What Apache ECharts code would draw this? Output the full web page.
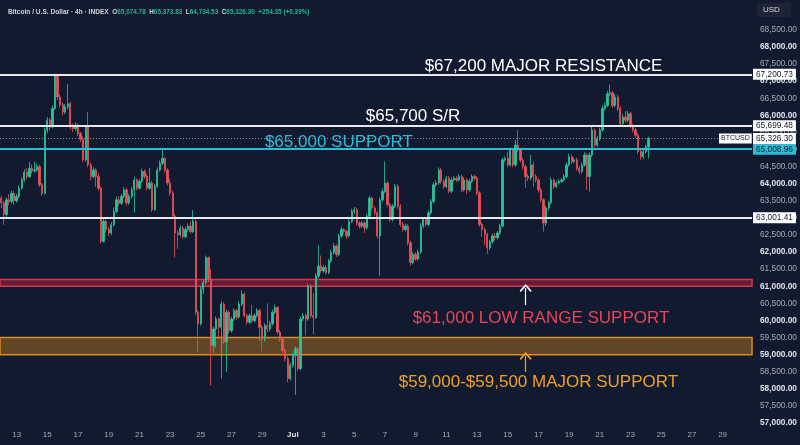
<!DOCTYPE html>
<html>
<head>
<meta charset="utf-8">
<script src="https://cdn.jsdelivr.net/npm/echarts@6/dist/echarts.min.js"></script>
<style>
  html, body { margin: 0; padding: 0; background: #111a2e; }
  #chart { width: 800px; height: 445px; }
</style>
</head>
<body>
<div id="chart"></div>
<script>
// BTCUSD 4h candles, Jun 12 00:00 -> Jul 24 04:00 (one row per day, 6 candles)
const firstOpen = 63580
const closes = [
  63440, 63100, 63530, 63480, 63720, 63500, // Jun 12
  63630, 63870, 64110, 64340, 64210, 64450,
  64380, 64400, 64500, 63970, 63720, 65570,
  65860, 65660, 66200, 67180, 66540, 66310,
  66100, 66250, 66340, 65660, 65610, 65710,
  65470, 65300, 64700, 65660, 64550, 64210,
  64400, 64210, 63870, 62320, 62900, 62660,
  62560, 62800, 63190, 63530, 63430, 63630,
  63820, 63440, 63630, 63820, 64110, 63870, // Jun 20
  64070, 64360, 64210, 63870, 64020, 63240,
  63920, 64400, 64600, 64740, 64400, 64020,
  63730, 63050, 62560, 62510, 62700, 62450,
  62660, 62760, 62600, 62900, 60240, 59900,
  60920, 61110, 61840, 61210, 59270, 59750,
  60040, 59800, 60480, 59370, 60240, 59700,
  60040, 60290, 60100, 60480, 60770, 60140,
  59950, 60140, 59990, 60140, 60290, 59800,
  59460, 59850, 59750, 59900, 60240, 60380,
  59660, 59460, 59120, 58880, 58300, 58690, // Jun 30
  58980, 59170, 58590, 60040, 60140, 60040, // Jul 1
  61010, 60140, 60090, 61300, 61590, 61450,
  61550, 61400, 61740, 61980, 62180, 61930,
  62470, 62660, 62610, 62470, 62900, 63190,
  63240, 62850, 62760, 62850, 62710, 63050,
  63580, 63290, 63150, 62470, 63530, 63770,
  64020, 63390, 62950, 63340, 63920, 63340,
  62810, 62660, 62760, 62270, 61690, 61930,
  61800, 62000, 62760, 62950, 62810, 63150,
  63480, 63970, 64020, 64400, 64070, 63920, // Jul 10
  64160, 63780, 64110, 64160, 64110, 64210,
  63820, 64110, 63820, 64070, 64210, 64160,
  63730, 62810, 62660, 62510, 62130, 62300,
  62470, 62420, 62560, 62760, 64700, 64740,
  64550, 64990, 64550, 65130, 64990, 64690,
  64500, 64210, 64160, 64550, 64210, 64110,
  63820, 63530, 62850, 63290, 63440, 64110,
  63920, 64020, 64070, 64110, 64210, 64550,
  64790, 64650, 64700, 64450, 64360, 64550,
  64840, 64210, 64840, 65570, 65130, 65320, // Jul 20
  65570, 66200, 66290, 66630, 66660, 66290,
  66540, 66200, 65760, 65950, 65860, 66050,
  65710, 65570, 65420, 64940, 64790, 64940,
  65074.78, 65326.30                          // Jul 24
]
const highs = [
  63650, 63500, 63600, 63700, 63800, 63780,
  63700, 63950, 64180, 64420, 64450, 64640,
  64560, 64650, 64580, 64560, 64020, 65640,
  65950, 65920, 66280, 67215, 67200, 66620,
  66380, 66330, 66920, 66400, 65760, 65800,
  65760, 65520, 65380, 65720, 66100, 64620,
  64480, 64450, 64300, 63920, 62980, 62950,
  62740, 62880, 63300, 63620, 63640, 63700,
  63900, 63880, 63700, 63900, 64200, 64160,
  64140, 64440, 64420, 64280, 64460, 64080,
  64000, 64480, 64680, 64985, 64780, 64450,
  64150, 63800, 63120, 62640, 62780, 62760,
  62740, 62840, 62900, 63230, 62960, 60300,
  61000, 61180, 61900, 61870, 61500, 59820,
  60120, 60100, 60560, 60530, 60320, 60300,
  60110, 60360, 60340, 60560, 60880, 60820,
  60200, 60210, 60450, 60200, 60360, 60340,
  59860, 59920, 60500, 59980, 60320, 60460,
  60420, 59720, 59520, 59180, 58950, 58760,
  59050, 59240, 59220, 60110, 60220, 60200,
  61080, 61050, 60800, 61380, 62200, 61900,
  61620, 61620, 61800, 62060, 62260, 62230,
  62540, 62740, 62700, 62660, 62980, 63270,
  63320, 63300, 62900, 62920, 62900, 63120,
  63650, 63620, 63340, 63200, 63600, 63850,
  64650, 64080, 63440, 63400, 64000, 63980,
  63400, 62880, 62830, 62820, 62320, 62000,
  62000, 62080, 62840, 63020, 63000, 63220,
  63550, 64040, 64100, 64480, 64460, 64130,
  64230, 64220, 64180, 64230, 64220, 64280,
  64260, 64180, 64160, 64140, 64280, 64260,
  64220, 63780, 62870, 62720, 62560, 62360,
  62540, 62560, 62620, 62830, 64760, 64800,
  64940, 65060, 65050, 65280, 65570, 65050,
  64760, 64560, 64290, 64840, 64640, 64280,
  64160, 63880, 63580, 63360, 63500, 64180,
  64160, 64080, 64130, 64170, 64280, 64620,
  64880, 64850, 64770, 64760, 64520, 64620,
  64920, 64900, 64920, 65680, 65620, 65400,
  65640, 66290, 66380, 66720, 66900, 66720,
  66620, 66600, 66260, 66030, 66120, 66130,
  66110, 65760, 65630, 65480, 65000, 65010,
  65140, 65373.83
]
const lows = [
  63290, 62800, 63020, 63380, 63420, 63380,
  63440, 63580, 63820, 64060, 64120, 64170,
  64300, 64320, 64350, 63900, 63640, 63680,
  65480, 65560, 65620, 66150, 66450, 66220,
  65990, 66040, 66180, 65590, 65520, 65540,
  65400, 65220, 64640, 64650, 64480, 64100,
  64150, 63900, 63800, 62250, 62280, 62580,
  62470, 62500, 62740, 63140, 63350, 63380,
  63580, 63360, 63380, 63560, 63150, 63800,
  63820, 64020, 64140, 63800, 63820, 63180,
  63200, 63880, 64350, 64540, 64330, 63950,
  63650, 62980, 61850, 62100, 62450, 62380,
  62400, 62600, 62540, 62560, 60150, 59070,
  59850, 60780, 61050, 61120, 58100, 59050,
  59200, 59500, 58300, 59300, 58490, 59620,
  59640, 59980, 60020, 60060, 60420, 60080,
  59880, 59900, 59920, 59940, 60080, 59400,
  59100, 59380, 59650, 59680, 59850, 60180,
  59600, 59380, 59050, 58800, 58200, 58250,
  58620, 57820, 58520, 58540, 59980, 59560,
  59990, 60080, 59600, 60040, 61240, 61380,
  61400, 61340, 61350, 61690, 61930, 61860,
  61880, 62420, 62540, 62380, 62420, 62850,
  63120, 62780, 62690, 62700, 62560, 62660,
  63000, 63220, 63080, 62400, 61300, 63480,
  63720, 63320, 62880, 62900, 63290, 63270,
  62740, 62600, 62600, 62200, 61600, 61640,
  61740, 61750, 61950, 62700, 62740, 62760,
  63100, 63420, 63900, 63970, 64000, 63850,
  63870, 63720, 63730, 64060, 64050, 64060,
  63750, 63770, 63700, 63770, 64020, 64100,
  63660, 62740, 62440, 62200, 61950, 62060,
  62250, 62340, 62370, 62500, 62720, 64640,
  64480, 64500, 64480, 64500, 64920, 64620,
  64420, 63880, 64080, 64100, 63900, 64040,
  63740, 63460, 62600, 62760, 63220, 63390,
  63850, 63870, 63980, 64020, 64060, 64160,
  64500, 64580, 64600, 64380, 64280, 64300,
  64500, 63820, 63770, 64780, 65060, 65080,
  65260, 65520, 66140, 66240, 66560, 66220,
  66240, 66130, 65690, 65700, 65790, 65800,
  65640, 65500, 65350, 64870, 64700, 64720,
  64880, 64734.53
]

// horizontal levels drawn on the chart
const levelPrices = [67200.73, 65699.48, 65008.96, 63001.41]
const lastPrice = 65326.30
const redZone = [61000, 61200]
const orangeZone = [59000, 59500]

const FONT = '"Liberation Sans", Arial, sans-serif'
const UP = '#26c69a'
const DOWN = '#ef5058'
const WHITE_LINE = '#e6e8ee'
const CYAN = '#2cbcd6'
const RED = '#e8455c'
const ORANGE = '#f0a024'

// 4h slots from Jun 12 to the right edge (Jul 30)
const SLOTS = 294
const startMs = Date.UTC(2024, 5, 12, 0)
const categories = []
for (let i = 0; i < SLOTS; i++) {
  categories.push(new Date(startMs + i * 4 * 3600 * 1000).toISOString().slice(0, 13))
}

const opens = closes.map((c, i) => (i === 0 ? firstOpen : closes[i - 1]))
const candles = closes.map((c, i) => [opens[i], c, lows[i], highs[i]])

function fmt(v) {
  return v.toLocaleString('en-US', { minimumFractionDigits: 2, maximumFractionDigits: 2 })
}

function slotDate(value) {
  return new Date(value + ':00:00Z')
}

// annotation texts: [text, slot index, price, color]
const notes = [
  ['$67,200 MAJOR RESISTANCE', 212, 67444, '#ffffff'],
  ['$65,700 S/R', 161, 65981, '#ffffff'],
  ['$65,000 SUPPORT', 132, 65210, CYAN],
  ['$61,000 LOW RANGE SUPPORT', 211, 60071, RED],
  ['$59,000-$59,500 MAJOR SUPPORT', 210, 58199, ORANGE]
]

const chevron = 'path://M0,8 L8,0 L16,8 L14.6,9.4 L8,2.8 L1.4,9.4 Z'

function levelLine(price, color, boxBg) {
  return {
    yAxis: price,
    lineStyle: { color: color, width: 2, type: 'solid', opacity: 1 },
    label: {
      show: true,
      position: 'end',
      distance: 1,
      formatter: fmt(price),
      backgroundColor: boxBg,
      color: '#131a2c',
      fontFamily: FONT,
      fontSize: 8.3,
      padding: [2, 3, 1, 3]
    }
  }
}

const chart = echarts.init(document.getElementById('chart'), null, { renderer: 'canvas' })

const option = {
  backgroundColor: '#111a2e',
  animation: false,
  title: {
    left: 3,
    top: 4,
    text: '{t|Bitcoin / U.S. Dollar · 4h · INDEX}  {k|O}{v|65,074.78}  {k|H}{v|65,373.83}  {k|L}{v|64,734.53}  {k|C}{v|65,326.30}  {v|+254.35 (+0.39%)}',
    textStyle: {
      fontFamily: FONT,
      fontSize: 6.4,
      rich: {
        t: { color: '#d1d4dc', fontSize: 6.6, fontFamily: FONT },
        k: { color: '#d1d4dc', fontSize: 6.4, fontFamily: FONT },
        v: { color: '#22b58f', fontSize: 6.4, fontFamily: FONT }
      }
    }
  },
  graphic: [
    { type: 'rect', left: 757, top: 3, shape: { width: 34, height: 14, r: 2 }, style: { fill: '#1d2436' } },
    { type: 'text', left: 763, top: 6, style: { text: 'USD', fill: '#d1d4dc', font: '8px ' + FONT } }
  ],
  grid: { left: 0, right: 48, top: 0, bottom: 22 },
  xAxis: {
    type: 'category',
    data: categories,
    boundaryGap: true,
    axisLine: { show: false },
    axisTick: { show: false },
    splitLine: { show: false },
    axisLabel: {
      margin: 8,
      color: '#a7abb6',
      fontFamily: FONT,
      fontSize: 8,
      interval: function (index, value) {
        const d = slotDate(value)
        return d.getUTCHours() === 0 && d.getUTCDate() % 2 === 1
      },
      formatter: function (value) {
        const d = slotDate(value)
        return d.getUTCDate() === 1 ? '{m|Jul}' : String(d.getUTCDate())
      },
      rich: { m: { color: '#e6e8ee', fontWeight: 'bold', fontSize: 8, fontFamily: FONT } }
    }
  },
  yAxis: {
    type: 'value',
    position: 'right',
    min: 57000,
    max: 69375,
    interval: 500,
    scale: true,
    axisLine: { show: false },
    axisTick: { show: false },
    splitLine: { show: false },
    axisLabel: {
      margin: 8,
      showMinLabel: true,
      fontFamily: FONT,
      fontSize: 8.3,
      formatter: function (v) {
        if (v > 68500) return ''
        return v % 1000 === 0 ? '{b|' + fmt(v) + '}' : '{n|' + fmt(v) + '}'
      },
      rich: {
        b: { color: '#dfe2e8', fontWeight: 'bold', fontSize: 8.3, fontFamily: FONT },
        n: { color: '#a7abb6', fontSize: 8.3, fontFamily: FONT }
      }
    }
  },
  series: [{
    type: 'candlestick',
    data: candles,
    barWidth: 1.8,
    itemStyle: {
      color: UP,
      color0: DOWN,
      borderColor: UP,
      borderColor0: DOWN,
      borderWidth: 0.8
    },
    markArea: {
      silent: true,
      data: [
        [{ yAxis: redZone[0], itemStyle: { color: 'rgba(180,34,64,0.5)', borderColor: '#d8344c', borderWidth: 1.5 } }, { yAxis: redZone[1] }],
        [{ yAxis: orangeZone[0], itemStyle: { color: 'rgba(190,124,32,0.45)', borderColor: '#e08a1c', borderWidth: 1.5 } }, { yAxis: orangeZone[1] }]
      ]
    },
    markLine: {
      silent: true,
      symbol: 'none',
      animation: false,
      data: [
        levelLine(levelPrices[0], WHITE_LINE, '#ffffff'),
        levelLine(levelPrices[1], WHITE_LINE, '#ffffff'),
        levelLine(levelPrices[2], CYAN, CYAN),
        levelLine(levelPrices[3], WHITE_LINE, '#ffffff'),
        {
          yAxis: lastPrice,
          lineStyle: { color: '#8a90a0', width: 1, type: [1, 2] },
          label: {
            show: true, position: 'end', distance: 1, formatter: fmt(lastPrice),
            backgroundColor: '#ffffff', color: '#131a2c', fontFamily: FONT, fontSize: 8.3, padding: [2, 3, 1, 3]
          }
        },
        [
          { coord: [205, 60452], symbol: 'none', lineStyle: { color: '#ffffff', width: 1.2, type: 'solid' }, label: { show: false } },
          { coord: [205, 60949], symbol: chevron, symbolSize: [12, 8] }
        ],
        [
          { coord: [205, 58492], symbol: 'none', lineStyle: { color: ORANGE, width: 1.2, type: 'solid' }, label: { show: false } },
          { coord: [205, 58960], symbol: chevron, symbolSize: [12, 8] }
        ]
      ]
    },
    markPoint: {
      silent: true,
      animation: false,
      symbol: 'circle',
      symbolSize: 0,
      data: notes.map(n => ({
        coord: [n[1], n[2]],
        label: { show: true, position: 'inside', formatter: n[0], color: n[3], fontFamily: FONT, fontSize: 17 }
      })).concat([{
        coord: [287, lastPrice],
        label: {
          show: true, position: 'inside', formatter: 'BTCUSD', color: '#131a2c', backgroundColor: '#ffffff',
          fontFamily: FONT, fontSize: 7, padding: [2, 2, 1, 2]
        }
      }])
    }
  }]
}

chart.setOption(option)
</script>
</body>
</html>
